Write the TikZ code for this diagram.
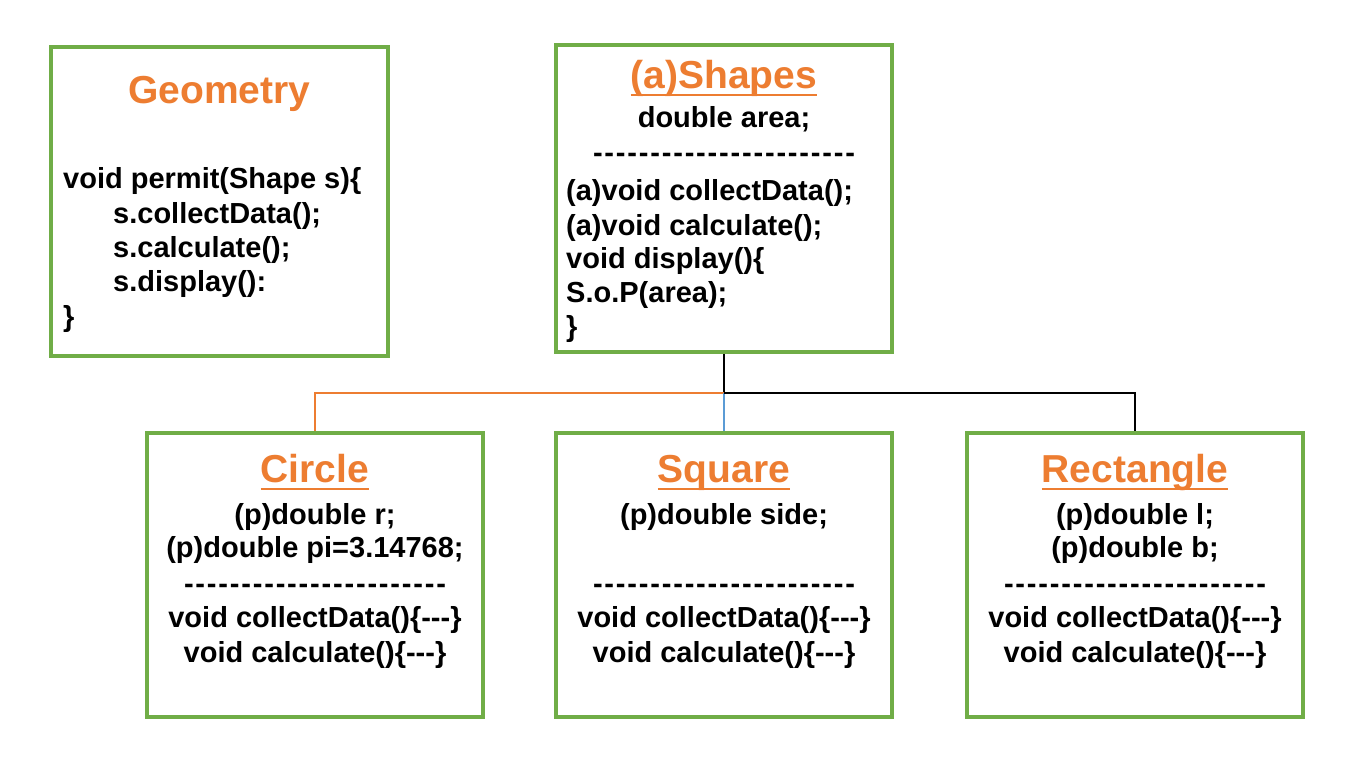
\documentclass[tikz,border=0pt]{standalone}
\usepackage{fontspec}
\setmainfont{Liberation Sans}[Ligatures=TeXOff]
\usetikzlibrary{backgrounds}
\definecolor{boxgreen}{HTML}{70AD47}
\definecolor{titleorange}{HTML}{ED7D31}
\definecolor{linkblue}{HTML}{5B9BD5}
\newcommand\myul[1]{\setbox0\hbox{#1}\rlap{\rule[-8pt]{\wd0}{2.2pt}}\box0}
\newcommand\dashrow{\hbox to 262pt{-\hfil-\hfil-\hfil-\hfil-\hfil-\hfil-\hfil-\hfil-\hfil-\hfil-\hfil-\hfil-\hfil-\hfil-\hfil-\hfil-\hfil-\hfil-\hfil-\hfil-\hfil-\hfil-}}
\begin{document}
\begin{tikzpicture}[x=1pt,y=-1pt,
  umlbox/.style={draw=boxgreen, line width=3.5pt, inner sep=0pt, fill=white},
  titletext/.style={font=\bfseries\fontsize{39}{47}\selectfont, text=titleorange, anchor=base, inner sep=0pt},
  code/.style={font=\bfseries\fontsize{29}{35}\selectfont, anchor=base, inner sep=0pt},
  codeL/.style={code, anchor=base west},
  link/.style={line width=1.7pt}]
\useasboundingbox (0,0) rectangle (1353,772);

% boxes
\node[umlbox, minimum width=337pt, minimum height=309pt] (geo) at (219.5,201.5) {};
\node[umlbox, minimum width=336pt, minimum height=307pt] (shp) at (724,198.5) {};
\node[umlbox, minimum width=336pt, minimum height=284pt] (cir) at (315,575) {};
\node[umlbox, minimum width=336pt, minimum height=284pt] (sqr) at (724,575) {};
\node[umlbox, minimum width=336pt, minimum height=284pt] (rec) at (1135,575) {};

% Geometry
\node[titletext] (geoT) at (219.5,103) {Geometry};
\node[codeL] (geo1) at (63,188) {void permit(Shape s)\{};
\node[codeL] (geo2) at (113,223) {s.collectData();};
\node[codeL] (geo3) at (113,257) {s.calculate();};
\node[codeL] (geo4) at (113,291) {s.display():};
\node[codeL] (geo5) at (63,326) {\}};

% Shapes
\node[titletext] (shpT) at (724,88) {\myul{(a)Shapes}};
\node[code] (shp1) at (724,127) {double area;};
\node[code] (shpD) at (724,162) {\dashrow};
\node[codeL] (shp2) at (566,200) {(a)void collectData();};
\node[codeL] (shp3) at (566,235) {(a)void calculate();};
\node[codeL] (shp4) at (566,268) {void display()\{};
\node[codeL] (shp5) at (566,302) {S.o.P(area);};
\node[codeL] (shp6) at (566,336) {\}};

% Circle
\node[titletext] (cirT) at (315,482) {\myul{Circle}};
\node[code] (cir1) at (315,524) {(p)double r;};
\node[code] (cir2) at (315,557) {(p)double pi=3.14768;};
\node[code] (cirD) at (315,593) {\dashrow};
\node[code] (cir3) at (315,627) {void collectData()\{-{}-{}-\}};
\node[code] (cir4) at (315,662) {void calculate()\{-{}-{}-\}};

% Square
\node[titletext] (sqrT) at (724,482) {\myul{Square}};
\node[code] (sqr1) at (724,524) {(p)double side;};
\node[code] (sqrD) at (724,593) {\dashrow};
\node[code] (sqr3) at (724,627) {void collectData()\{-{}-{}-\}};
\node[code] (sqr4) at (724,662) {void calculate()\{-{}-{}-\}};

% Rectangle
\node[titletext] (recT) at (1135,482) {\myul{Rectangle}};
\node[code] (rec1) at (1135,524) {(p)double l;};
\node[code] (rec2) at (1135,557) {(p)double b;};
\node[code] (recD) at (1135,593) {\dashrow};
\node[code] (rec3) at (1135,627) {void collectData()\{-{}-{}-\}};
\node[code] (rec4) at (1135,662) {void calculate()\{-{}-{}-\}};

% connectors
\coordinate (j) at (724,393);
\begin{scope}[on background layer]
\fill[white] (0,0) rectangle (1353,772);
\draw[link, black] (shp.south) -- (j);
\draw[link, titleorange] (j) -| (cir.north);
\draw[link, linkblue] (j) -- (sqr.north);
\draw[link, black] (j) -| (rec.north);
\end{scope}
\end{tikzpicture}
\end{document}
